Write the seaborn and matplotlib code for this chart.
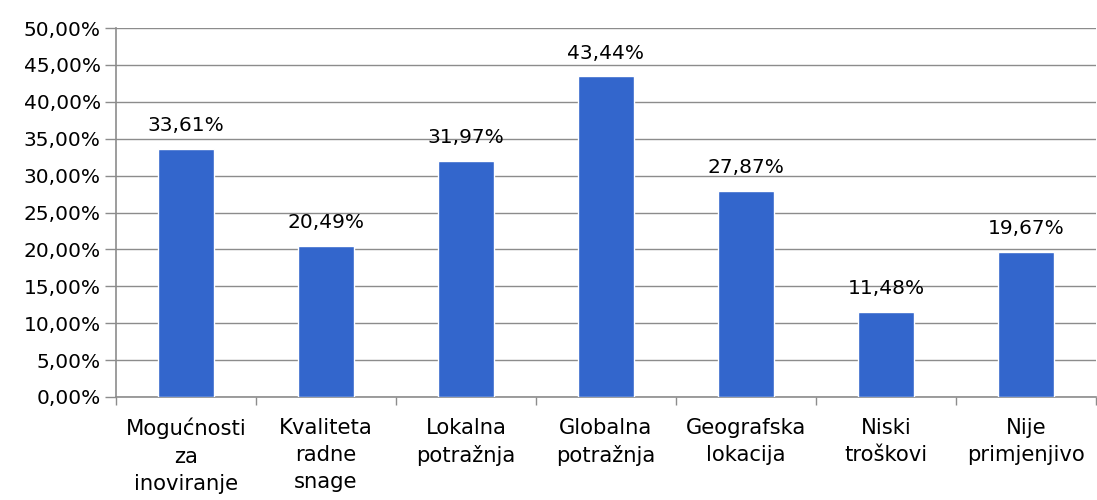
import matplotlib
matplotlib.use("Agg")
import matplotlib.pyplot as plt
import seaborn as sns
import numpy as np
import pandas as pd
from matplotlib.ticker import FuncFormatter, MultipleLocator

categories = [
    "Mogućnosti\nza\ninoviranje",
    "Kvaliteta\nradne\nsnage",
    "Lokalna\npotražnja",
    "Globalna\npotražnja",
    "Geografska\nlokacija",
    "Niski\ntroškovi",
    "Nije\nprimjenjivo",
]
values = [33.61, 20.49, 31.97, 43.44, 27.87, 11.48, 19.67]

sns.set_theme(style="white")
plt.rcParams["font.family"] = ["DejaVu Sans"]

df = pd.DataFrame({"cat": categories, "val": values})

fig = plt.figure(figsize=(10.97, 5), dpi=100)
ax = fig.add_axes([116 / 1097, 1 - 397 / 500, 980 / 1097, 369 / 500])

sns.barplot(data=df, x="cat", y="val", color="#3366CC", width=0.4,
            saturation=1, ax=ax, zorder=3)

FS = 14.5
fmt = lambda v: f"{v:.2f}".replace(".", ",") + "%"
for i, v in enumerate(values):
    ax.annotate(fmt(v), (i, v), xytext=(0, 10), textcoords="offset points",
                ha="center", va="bottom", fontsize=FS, color="#000000")

ax.set_ylim(0, 50)
ax.set_xlim(-0.5, len(categories) - 0.5)
ax.yaxis.set_major_locator(MultipleLocator(5))
ax.yaxis.set_major_formatter(FuncFormatter(lambda v, _: fmt(v)))
ax.grid(axis="y", color="#8c8c8c", linewidth=1, zorder=0)
ax.set_axisbelow(True)

ax.set_xlabel("")
ax.set_ylabel("")
ax.tick_params(axis="y", which="major", left=True, length=8, width=1,
               color="#8c8c8c", labelsize=FS, labelcolor="#000000", pad=3)
ax.tick_params(axis="x", which="major", length=0, labelsize=15.2,
               labelcolor="#000000", pad=15)
ax.set_xticks(np.arange(len(categories) + 1) - 0.5, minor=True)
ax.tick_params(axis="x", which="minor", bottom=True, length=6, width=1,
               color="#8c8c8c")
for lbl in ax.get_xticklabels():
    lbl.set_linespacing(1.45)

for side in ["top", "right"]:
    ax.spines[side].set_visible(False)
for side in ["left", "bottom"]:
    ax.spines[side].set_color("#8c8c8c")
    ax.spines[side].set_linewidth(1.2)

fig.savefig("out.png", dpi=100)
